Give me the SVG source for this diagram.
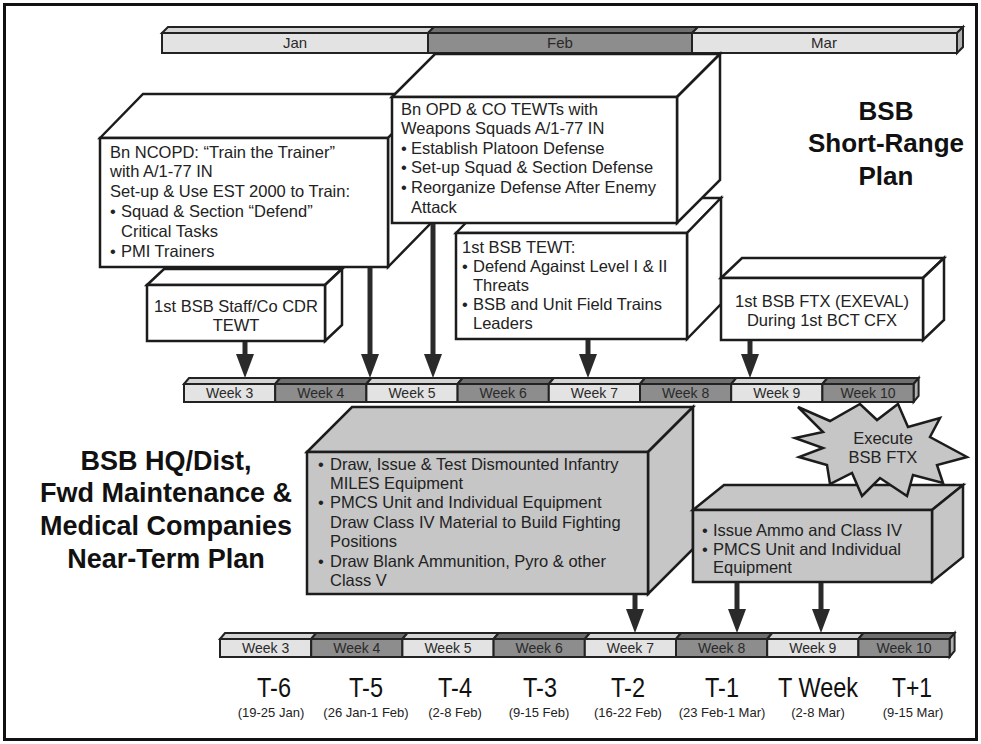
<svg xmlns="http://www.w3.org/2000/svg" width="981" height="744" viewBox="0 0 981 744">
<defs>
<marker id="ah" markerUnits="userSpaceOnUse" markerWidth="24" markerHeight="18" refX="2" refY="9" orient="auto">
<path d="M0,0 L24,9 L0,18 z" fill="#2a2a2a"/>
</marker>
</defs>
<style>
.bx{stroke:#1c1c1c;stroke-width:2.5;stroke-linejoin:miter}
.w{fill:#ffffff}
.g{fill:#c6c6c6}
.bar{stroke:#222;stroke-width:2}
.lt{fill:#e3e3e3}
.dk{fill:#8d8d8d}
.ltt{fill:#d4d4d4}
.dkt{fill:#6f6f6f}
.end{fill:#b0b0b0}
.t{font-family:"Liberation Sans",Arial,sans-serif;font-size:16.5px;fill:#222}
.c{text-anchor:middle}
.wk{font-family:"Liberation Sans",Arial,sans-serif;font-size:14px;fill:#2a2a2a;text-anchor:middle}
.mo{font-family:"Liberation Sans",Arial,sans-serif;font-size:15px;fill:#2a2a2a;text-anchor:middle}
.ttl{font-family:"Liberation Sans",Arial,sans-serif;font-weight:bold;fill:#111;text-anchor:middle}
.tl{font-family:"Liberation Sans",Arial,sans-serif;font-size:27px;fill:#111;text-anchor:middle}
.dt{font-family:"Liberation Sans",Arial,sans-serif;font-size:13px;fill:#222;text-anchor:middle}
.arr{stroke:#2a2a2a;stroke-width:5;fill:none}
</style>
<rect x="0" y="0" width="981" height="744" fill="#ffffff"/>
<rect x="4.5" y="4.5" width="972" height="735" fill="none" stroke="#111" stroke-width="3"/>

<g id="month-bar">
<g class="bar">
<polygon class="ltt" points="162,33 168,27 434,27 428,33"/>
<polygon class="dkt" points="428,33 434,27 698,27 692,33"/>
<polygon class="ltt" points="692,33 698,27 963,27 957,33"/>
<polygon class="end" points="957,33 963,27 963,47 957,53"/>
<rect class="lt" x="162" y="33" width="266" height="20"/>
<rect class="dk" x="428" y="33" width="264" height="20"/>
<rect class="lt" x="692" y="33" width="265" height="20"/>
</g>
<text class="mo" x="295" y="48">Jan</text>
<text class="mo" x="560" y="48">Feb</text>
<text class="mo" x="824" y="48">Mar</text>
</g>

<g id="box-staff-tewt">
<polygon class="bx w" points="147,285 164,269 342,269 325,285"/>
<polygon class="bx w" points="325,285 342,269 342,325 325,341"/>
<rect class="bx w" x="147" y="285" width="178" height="56"/>
<text class="t c" x="236" y="312">1st BSB Staff/Co CDR</text>
<text class="t c" x="236" y="331">TEWT</text>
</g>

<g id="box-ncopd">
<polygon class="bx w" points="100,138 143,94 431,94 388,138"/>
<polygon class="bx w" points="388,138 431,94 431,223 388,267"/>
<rect class="bx w" x="100" y="138" width="288" height="129"/>
<text class="t" x="110" y="158">Bn NCOPD: “Train the Trainer”</text>
<text class="t" x="110" y="177">with A/1-77 IN</text>
<text class="t" x="110" y="197">Set-up &amp; Use EST 2000 to Train:</text>
<text class="t" x="110" y="217">•<tspan x="121">Squad &amp; Section “Defend”</tspan></text>
<text class="t" x="121" y="237">Critical Tasks</text>
<text class="t" x="110" y="257">•<tspan x="121">PMI Trainers</tspan></text>
</g>

<g id="box-bsb-tewt">
<polygon class="bx w" points="456,233 490,198 721,198 687,233"/>
<polygon class="bx w" points="687,233 721,198 721,304 687,339"/>
<rect class="bx w" x="456" y="233" width="231" height="106"/>
<text class="t" x="462" y="253">1st BSB TEWT:</text>
<text class="t" x="462" y="272">•<tspan x="473">Defend Against Level I &amp; II</tspan></text>
<text class="t" x="473" y="291">Threats</text>
<text class="t" x="462" y="310">•<tspan x="473">BSB and Unit Field Trains</tspan></text>
<text class="t" x="473" y="329">Leaders</text>
</g>

<g id="box-opd">
<polygon class="bx w" points="392,97 435,54 720,54 677,97"/>
<polygon class="bx w" points="677,97 720,54 720,180 677,223"/>
<rect class="bx w" x="392" y="97" width="285" height="126"/>
<text class="t" x="401" y="115">Bn OPD &amp; CO TEWTs with</text>
<text class="t" x="401" y="134">Weapons Squads A/1-77 IN</text>
<text class="t" x="401" y="154">•<tspan x="411">Establish Platoon Defense</tspan></text>
<text class="t" x="401" y="173">•<tspan x="411">Set-up Squad &amp; Section Defense</tspan></text>
<text class="t" x="401" y="193">•<tspan x="411">Reorganize Defense After Enemy</tspan></text>
<text class="t" x="411" y="213">Attack</text>
</g>

<g id="box-ftx">
<polygon class="bx w" points="721,278 742,258 944,258 923,278"/>
<polygon class="bx w" points="923,278 944,258 944,320 923,340"/>
<rect class="bx w" x="721" y="278" width="202" height="62"/>
<text class="t c" x="822" y="307">1st BSB FTX (EXEVAL)</text>
<text class="t c" x="822" y="326">During 1st BCT CFX</text>
</g>

<g id="title-short-range">
<text class="ttl" x="886" y="120" font-size="26">BSB</text>
<text class="ttl" x="886" y="152" font-size="26">Short-Range</text>
<text class="ttl" x="886" y="185" font-size="26">Plan</text>
</g>

<g id="week-bar-upper">
<g class="bar">
<polygon class="ltt" points="184,384 189,378 280.2,378 275.2,384"/>
<polygon class="dkt" points="275.2,384 280.2,378 371.4,378 366.4,384"/>
<polygon class="ltt" points="366.4,384 371.4,378 462.6,378 457.6,384"/>
<polygon class="dkt" points="457.6,384 462.6,378 553.8,378 548.8,384"/>
<polygon class="ltt" points="548.8,384 553.8,378 645,378 640,384"/>
<polygon class="dkt" points="640,384 645,378 736.2,378 731.2,384"/>
<polygon class="ltt" points="731.2,384 736.2,378 827.4,378 822.4,384"/>
<polygon class="dkt" points="822.4,384 827.4,378 918.6,378 913.6,384"/>
<polygon class="end" points="913.6,384 918.6,378 918.6,396 913.6,402"/>
<rect class="lt" x="184" y="384" width="91.2" height="18"/>
<rect class="dk" x="275.2" y="384" width="91.2" height="18"/>
<rect class="lt" x="366.4" y="384" width="91.2" height="18"/>
<rect class="dk" x="457.6" y="384" width="91.2" height="18"/>
<rect class="lt" x="548.8" y="384" width="91.2" height="18"/>
<rect class="dk" x="640" y="384" width="91.2" height="18"/>
<rect class="lt" x="731.2" y="384" width="91.2" height="18"/>
<rect class="dk" x="822.4" y="384" width="91.2" height="18"/>
</g>
<text class="wk" x="229.6" y="398">Week 3</text>
<text class="wk" x="320.8" y="398">Week 4</text>
<text class="wk" x="412" y="398">Week 5</text>
<text class="wk" x="503.2" y="398">Week 6</text>
<text class="wk" x="594.4" y="398">Week 7</text>
<text class="wk" x="685.6" y="398">Week 8</text>
<text class="wk" x="776.8" y="398">Week 9</text>
<text class="wk" x="868" y="398">Week 10</text>
</g>

<g id="box-draw-issue">
<polygon class="bx g" points="307,452 352,407 693,407 648,452"/>
<polygon class="bx g" points="648,452 693,407 693,549 648,594"/>
<rect class="bx g" x="307" y="452" width="341" height="142"/>
<text class="t" x="318" y="470">•<tspan x="330">Draw, Issue &amp; Test Dismounted Infantry</tspan></text>
<text class="t" x="330" y="489">MILES Equipment</text>
<text class="t" x="318" y="508">•<tspan x="330">PMCS Unit and Individual Equipment</tspan></text>
<text class="t" x="330" y="528">Draw Class IV Material to Build Fighting</text>
<text class="t" x="330" y="547">Positions</text>
<text class="t" x="318" y="567">•<tspan x="330">Draw Blank Ammunition, Pyro &amp; other</tspan></text>
<text class="t" x="330" y="586">Class V</text>
</g>

<g id="box-issue-ammo">
<polygon class="bx g" points="693,510 724,485 963,485 932,510"/>
<polygon class="bx g" points="932,510 963,485 963,557 932,582"/>
<rect class="bx g" x="693" y="510" width="239" height="72"/>
<text class="t" x="702" y="536">•<tspan x="713">Issue Ammo and Class IV</tspan></text>
<text class="t" x="702" y="555">•<tspan x="713">PMCS Unit and Individual</tspan></text>
<text class="t" x="713" y="573">Equipment</text>
</g>

<g id="starburst-execute">
<polygon class="bx g" stroke-width="2" points="798,407 830,421 860,404 877,420 898,404 908,427 940,418 930,437 967,457 937,465 943,483 913,475 907,496 880,478 862,496 852,473 830,484 827,465 799,457 823,448 795,438 823,432"/>
<text class="t c" x="883" y="444" font-size="16">Execute</text>
<text class="t c" x="883" y="463" font-size="16">BSB FTX</text>
</g>

<g id="title-near-term">
<text class="ttl" x="166" y="470" font-size="27">BSB HQ/Dist,</text>
<text class="ttl" x="166" y="502" font-size="27">Fwd Maintenance &amp;</text>
<text class="ttl" x="166" y="535" font-size="27">Medical Companies</text>
<text class="ttl" x="166" y="568" font-size="27">Near-Term Plan</text>
</g>

<g id="week-bar-lower">
<g class="bar">
<polygon class="ltt" points="220,639 225,633 316.2,633 311.2,639"/>
<polygon class="dkt" points="311.2,639 316.2,633 407.4,633 402.4,639"/>
<polygon class="ltt" points="402.4,639 407.4,633 498.6,633 493.6,639"/>
<polygon class="dkt" points="493.6,639 498.6,633 589.8,633 584.8,639"/>
<polygon class="ltt" points="584.8,639 589.8,633 681,633 676,639"/>
<polygon class="dkt" points="676,639 681,633 772.2,633 767.2,639"/>
<polygon class="ltt" points="767.2,639 772.2,633 863.4,633 858.4,639"/>
<polygon class="dkt" points="858.4,639 863.4,633 954.6,633 949.6,639"/>
<polygon class="end" points="949.6,639 954.6,633 954.6,651 949.6,657"/>
<rect class="lt" x="220" y="639" width="91.2" height="18"/>
<rect class="dk" x="311.2" y="639" width="91.2" height="18"/>
<rect class="lt" x="402.4" y="639" width="91.2" height="18"/>
<rect class="dk" x="493.6" y="639" width="91.2" height="18"/>
<rect class="lt" x="584.8" y="639" width="91.2" height="18"/>
<rect class="dk" x="676" y="639" width="91.2" height="18"/>
<rect class="lt" x="767.2" y="639" width="91.2" height="18"/>
<rect class="dk" x="858.4" y="639" width="91.2" height="18"/>
</g>
<text class="wk" x="265.6" y="653">Week 3</text>
<text class="wk" x="356.8" y="653">Week 4</text>
<text class="wk" x="448" y="653">Week 5</text>
<text class="wk" x="539.2" y="653">Week 6</text>
<text class="wk" x="630.4" y="653">Week 7</text>
<text class="wk" x="721.6" y="653">Week 8</text>
<text class="wk" x="812.8" y="653">Week 9</text>
<text class="wk" x="904" y="653">Week 10</text>
</g>

<g id="t-labels">
<text class="tl" x="274" y="697" textLength="34" lengthAdjust="spacingAndGlyphs">T-6</text>
<text class="tl" x="366" y="697" textLength="34" lengthAdjust="spacingAndGlyphs">T-5</text>
<text class="tl" x="455" y="697" textLength="34" lengthAdjust="spacingAndGlyphs">T-4</text>
<text class="tl" x="540" y="697" textLength="34" lengthAdjust="spacingAndGlyphs">T-3</text>
<text class="tl" x="628" y="697" textLength="34" lengthAdjust="spacingAndGlyphs">T-2</text>
<text class="tl" x="722" y="697" textLength="34" lengthAdjust="spacingAndGlyphs">T-1</text>
<text class="tl" x="818" y="697" textLength="80" lengthAdjust="spacingAndGlyphs">T Week</text>
<text class="tl" x="912" y="697" textLength="40" lengthAdjust="spacingAndGlyphs">T+1</text>
<text class="dt" x="271" y="717">(19-25 Jan)</text>
<text class="dt" x="366" y="717">(26 Jan-1 Feb)</text>
<text class="dt" x="455" y="717">(2-8 Feb)</text>
<text class="dt" x="539" y="717">(9-15 Feb)</text>
<text class="dt" x="628" y="717">(16-22 Feb)</text>
<text class="dt" x="722" y="717">(23 Feb-1 Mar)</text>
<text class="dt" x="818" y="717">(2-8 Mar)</text>
<text class="dt" x="913" y="717">(9-15 Mar)</text>
</g>

<g id="connectors">
<line class="arr" x1="245" y1="342" x2="245" y2="356" marker-end="url(#ah)"/>
<line class="arr" x1="370" y1="268" x2="370" y2="356" marker-end="url(#ah)"/>
<line class="arr" x1="433" y1="224" x2="433" y2="356" marker-end="url(#ah)"/>
<line class="arr" x1="588" y1="340" x2="588" y2="356" marker-end="url(#ah)"/>
<line class="arr" x1="750" y1="341" x2="750" y2="356" marker-end="url(#ah)"/>
<line class="arr" x1="635" y1="595" x2="635" y2="611" marker-end="url(#ah)"/>
<line class="arr" x1="737" y1="583" x2="737" y2="611" marker-end="url(#ah)"/>
<line class="arr" x1="821" y1="583" x2="821" y2="611" marker-end="url(#ah)"/>
</g>
</svg>
